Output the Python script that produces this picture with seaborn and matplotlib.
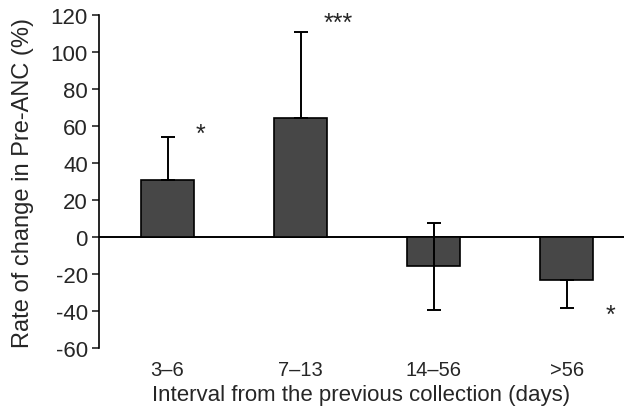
import matplotlib
matplotlib.use("Agg")
import matplotlib.pyplot as plt
import seaborn as sns
import numpy as np

# values
intervals = ["3\u20136", "7\u201313", "14\u201356", ">56"]
rate_change = [30.8, 64.3, -15.8, -23.1]
err_lower = [0, 0, 23.5, 15.3]
err_upper = [23.4, 46.5, 23.2, 0]
marks = ["*", "***", "", "*"]
mark_x = [0.25, 1.28, 0, 3.33]
mark_y = [56, 116, 0, -42]

sns.set_style("white")
plt.rcParams['font.family'] = ['Liberation Sans', 'DejaVu Sans']
plt.rcParams['axes.unicode_minus'] = False

fig = plt.figure(figsize=(6.24, 4.10), dpi=100)
ax = fig.add_axes([0.1587, 0.1488, 0.8413, 0.812])

sns.barplot(x=intervals, y=rate_change, color="#474747", edgecolor="black",
            linewidth=1.2, width=0.4, saturation=1, errorbar=None, ax=ax, zorder=2)

xs = np.arange(len(intervals))
ax.errorbar(xs, rate_change, yerr=[err_lower, err_upper], fmt="none",
            ecolor="black", elinewidth=1.4, capsize=5, capthick=1.4, zorder=3)

ax.axhline(0, color="black", linewidth=1.4, zorder=1)

for x, y, m in zip(mark_x, mark_y, marks):
    if m:
        ax.text(x, y, m, ha="center", va="center", fontsize=18)

ax.set_xlim(-0.515, 3.43)
ax.set_ylim(-60, 120)
ax.set_yticks(range(-60, 121, 20))
ax.tick_params(axis="y", left=True, length=5, width=1.2, labelsize=16, pad=3)
ax.tick_params(axis="x", bottom=False, length=0, labelsize=14.5, pad=9)

for side in ["top", "right", "bottom"]:
    ax.spines[side].set_visible(False)
ax.spines["left"].set_linewidth(1.2)
ax.spines["left"].set_color("black")

ax.set_ylabel("Rate of change in Pre-ANC (%)", fontsize=17, labelpad=12)
ax.set_xlabel("Interval from the previous collection (days)", fontsize=16, labelpad=3)

fig.savefig("out.png", dpi=100)
